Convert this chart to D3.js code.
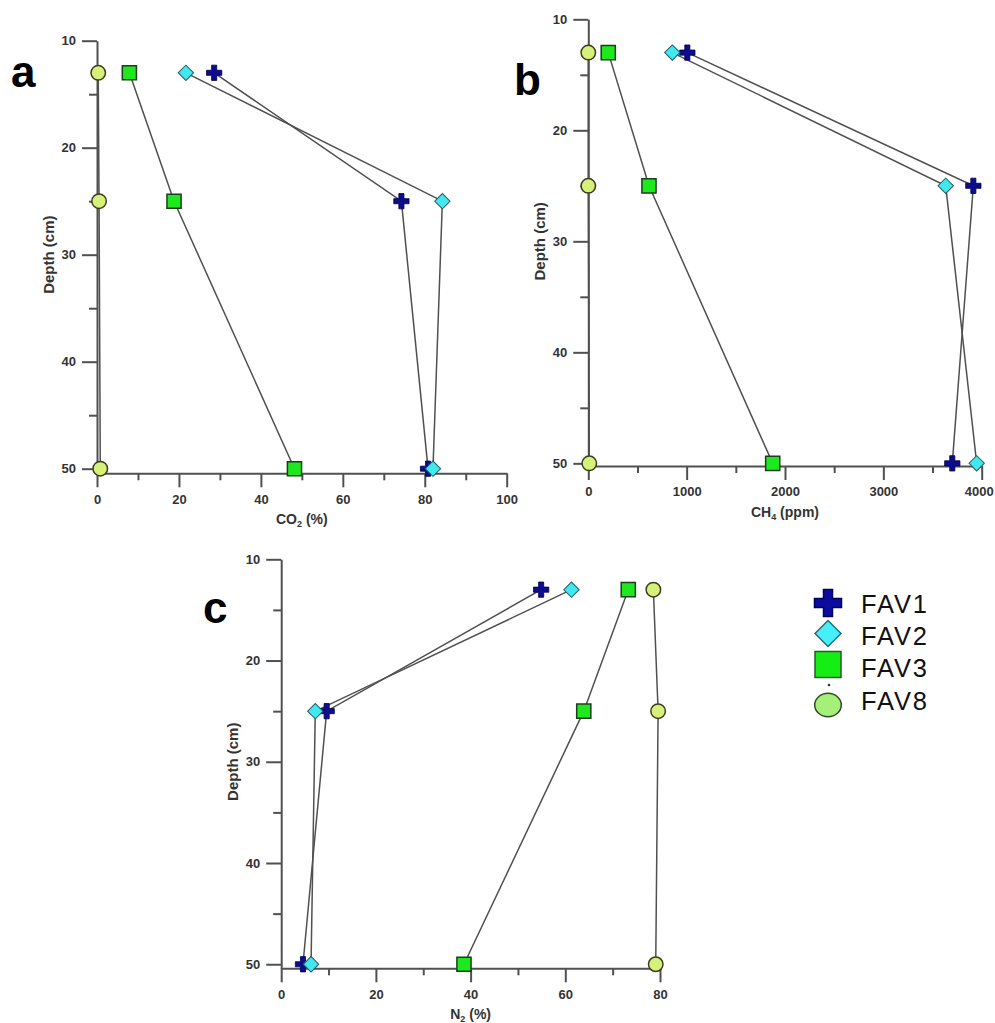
<!DOCTYPE html>
<html>
<head>
<meta charset="utf-8">
<script src="https://cdn.jsdelivr.net/npm/d3@7"></script>
<style>
  html, body { margin: 0; padding: 0; background: #fff; }
  svg { display: block; }
</style>
</head>
<body>
<svg id="chart" width="995" height="1023"></svg>
<script>
// ---------------- DATA ----------------
const depths = [13, 25, 50];
const seriesNames = ["FAV1", "FAV2", "FAV3", "FAV8"];

const co2_FAV1 = [28.6, 74.3, 80.8];
const co2_FAV2 = [21.7, 84.3, 82.0];
const co2_FAV3 = [7.9, 18.8, 48.2];
const co2_FAV8 = [0.3, 0.5, 0.8];

const ch4_FAV1 = [1007, 3915, 3701];
const ch4_FAV2 = [854, 3634, 3949];
const ch4_FAV3 = [203, 617, 1875];
const ch4_FAV8 = [0, 0, 10];

const n2_FAV1 = [54.9, 9.6, 4.6];
const n2_FAV2 = [61.3, 7.2, 6.3];
const n2_FAV3 = [73.3, 63.9, 38.6];
const n2_FAV8 = [78.6, 79.6, 79.1];

const depthMajorTicks = [10, 20, 30, 40, 50];
const depthMinorTicks = [15, 25, 35, 45];
const co2MajorTicks = [0, 20, 40, 60, 80, 100];
const co2MinorTicks = [10, 30, 50, 70, 90];
const ch4MajorTicks = [0, 1000, 2000, 3000, 4000];
const ch4MinorTicks = [500, 1500, 2500, 3500];
const n2MajorTicks = [0, 20, 40, 60, 80];
const n2MinorTicks = [10, 30, 50, 70];

const yTitle = "Depth (cm)";
const panelLetters = ["a", "b", "c"];

// ---------------- STYLE / LAYOUT ----------------
const styles = {
  FAV1: { type: d3.symbolCross, size: 130, rot: 0, fill: "#0c0c8c", stroke: "#00004a", sw: 0.8,
          lsize: 405, lfill: "#0b0ba0", lstroke: "#000060" },
  FAV2: { type: d3.symbolSquare, size: 118, rot: 45, fill: "#40e8f0", stroke: "#2a5a60", sw: 1,
          lsize: 338, lfill: "#44f0fc", lstroke: "#2a6a70" },
  FAV3: { type: d3.symbolSquare, size: 200, rot: 0, fill: "#1ee81e", stroke: "#1b3d1b", sw: 1.5,
          lsize: 676, lfill: "#14ee14", lstroke: "#2a5a2a" },
  FAV8: { type: d3.symbolCircle, size: 165, rot: 0, fill: "#d6f07a", stroke: "#3b3b20", sw: 1.5,
          lsize: 0, lfill: "#a6f07a", lstroke: "#2e4a2a" }
};

const panels = [
  { letter: panelLetters[0], letterPos: [11, 87],
    values: { FAV1: co2_FAV1, FAV2: co2_FAV2, FAV3: co2_FAV3, FAV8: co2_FAV8 },
    xDomain: [0, 100], xRange: [97, 506.7], yRange: [40.7, 473.3], yMax: 50.43,
    xMajor: co2MajorTicks, xMinor: co2MinorTicks, title: ["CO", "2", " (%)"], lastDx: 0 },
  { letter: panelLetters[1], letterPos: [514, 95],
    values: { FAV1: ch4_FAV1, FAV2: ch4_FAV2, FAV3: ch4_FAV3, FAV8: ch4_FAV8 },
    xDomain: [0, 4000], xRange: [588.3, 981.7], yRange: [19.3, 466], yMax: 50.24,
    xMajor: ch4MajorTicks, xMinor: ch4MinorTicks, title: ["CH", "4", " (ppm)"], lastDx: -3 },
  { letter: panelLetters[2], letterPos: [203, 623],
    values: { FAV1: n2_FAV1, FAV2: n2_FAV2, FAV3: n2_FAV3, FAV8: n2_FAV8 },
    xDomain: [0, 80], xRange: [281.2, 660], yRange: [559.3, 968.3], yMax: 50.4,
    xMajor: n2MajorTicks, xMinor: n2MinorTicks, title: ["N", "2", " (%)"], lastDx: 0 }
];

const svg = d3.select("#chart");
const tickFont = "'Liberation Sans', Arial, sans-serif";
const axisColor = "#505050";

function styleAxis(g, showText) {
  g.select(".domain").attr("stroke", axisColor).attr("stroke-width", 2);
  g.selectAll(".tick line").attr("stroke", axisColor).attr("stroke-width", 2);
  g.selectAll(".tick text")
    .attr("font-family", tickFont).attr("font-weight", "bold")
    .attr("font-size", 13).attr("fill", "#333")
    .style("display", showText ? null : "none");
}

panels.forEach(p => {
  const x = d3.scaleLinear().domain(p.xDomain).range(p.xRange);
  const y = d3.scaleLinear().domain([10, p.yMax]).range(p.yRange);
  const g = svg.append("g");
  const yBottom = p.yRange[1];
  const x0 = x(0);

  // Minor ticks
  g.append("g").attr("transform", `translate(0,${yBottom})`)
    .call(d3.axisBottom(x).tickValues(p.xMinor).tickSize(7).tickFormat(""))
    .call(a => { a.select(".domain").remove(); styleAxis(a, false); });
  g.append("g").attr("transform", `translate(${x0},0)`)
    .call(d3.axisLeft(y).tickValues(depthMinorTicks).tickSize(8).tickFormat(""))
    .call(a => { a.select(".domain").remove(); styleAxis(a, false); });

  // Major axes
  g.append("g").attr("transform", `translate(0,${yBottom})`)
    .call(d3.axisBottom(x).tickValues(p.xMajor).tickSize(14).tickSizeOuter(0).tickPadding(7).tickFormat(d3.format("d")))
    .call(a => {
      styleAxis(a, true);
      a.selectAll(".tick text").filter((d, i, n) => i === n.length - 1).attr("dx", p.lastDx);
    });
  g.append("g").attr("transform", `translate(${x0},0)`)
    .call(d3.axisLeft(y).tickValues(depthMajorTicks).tickSize(15).tickSizeOuter(0).tickPadding(6).tickFormat(d3.format("d")))
    .call(a => styleAxis(a, true));

  // Axis titles
  const xt = g.append("text")
    .attr("x", (p.xRange[0] + p.xRange[1]) / 2).attr("y", yBottom + 51)
    .attr("text-anchor", "middle")
    .attr("font-family", tickFont).attr("font-weight", "bold").attr("font-size", 14).attr("fill", "#333");
  xt.append("tspan").text(p.title[0]);
  xt.append("tspan").attr("font-size", 9).attr("dy", 3).text(p.title[1]);
  xt.append("tspan").attr("dy", -3).text(p.title[2]);

  g.append("text")
    .attr("transform", `translate(${x0 - 43},${y(30)}) rotate(-90)`)
    .attr("text-anchor", "middle")
    .attr("font-family", tickFont).attr("font-weight", "bold").attr("font-size", 15).attr("fill", "#333")
    .text(yTitle);

  // Panel letter
  g.append("text").attr("x", p.letterPos[0]).attr("y", p.letterPos[1])
    .attr("font-family", "'Liberation Sans', Arial, sans-serif").attr("font-weight", "bold")
    .attr("font-size", 44).attr("fill", "#000").text(p.letter);

  // Lines
  const line = d3.line().x(d => x(d.v)).y(d => y(d.d));
  const drawOrder = ["FAV8", "FAV3", "FAV1", "FAV2"];
  drawOrder.forEach(s => {
    const pts = depths.map((d, i) => ({ d: d, v: p.values[s][i] }));
    g.append("path").datum(pts).attr("d", line)
      .attr("fill", "none").attr("stroke", "#505050").attr("stroke-width", 1.5);
  });
  drawOrder.forEach(s => {
    const st = styles[s];
    const pts = depths.map((d, i) => ({ d: d, v: p.values[s][i] }));
    g.selectAll(null).data(pts).enter().append("path")
      .attr("d", d3.symbol().type(st.type).size(st.size))
      .attr("transform", d => `translate(${x(d.v)},${y(d.d)}) rotate(${st.rot})`)
      .attr("fill", st.fill).attr("stroke", st.stroke).attr("stroke-width", st.sw);
  });
});

// ---------------- LEGEND ----------------
const legend = svg.append("g");
const legendY = { FAV1: 603, FAV2: 633.5, FAV3: 664.5, FAV8: 705 };
const legendBase = { FAV1: 613, FAV2: 645, FAV3: 677, FAV8: 710 };
seriesNames.forEach(s => {
  const st = styles[s];
  if (s === "FAV8") {
    legend.append("ellipse").attr("cx", 828).attr("cy", legendY[s]).attr("rx", 13.3).attr("ry", 11.7)
      .attr("fill", st.lfill).attr("stroke", st.lstroke).attr("stroke-width", 1.5);
  } else {
    legend.append("path")
      .attr("d", d3.symbol().type(st.type).size(st.lsize))
      .attr("transform", `translate(828,${legendY[s]}) rotate(${st.rot})`)
      .attr("fill", st.lfill).attr("stroke", st.lstroke).attr("stroke-width", 1.5);
  }
  legend.append("text").attr("x", 861).attr("y", legendBase[s])
    .attr("font-family", "'Liberation Sans', Arial, sans-serif").attr("font-size", 25.5)
    .attr("letter-spacing", 1.8).attr("fill", "#111").text(s);
});
legend.append("circle").attr("cx", 829).attr("cy", 685).attr("r", 1.3).attr("fill", "#333");
</script>
</body>
</html>
